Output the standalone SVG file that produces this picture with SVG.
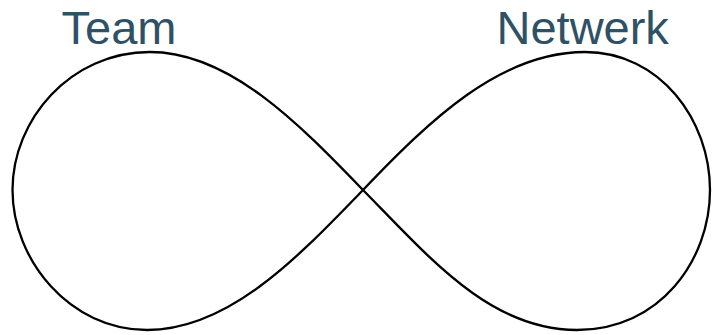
<svg xmlns="http://www.w3.org/2000/svg" width="712" height="335" viewBox="0 0 712 335">
<style>
.lbl{font-family:"Liberation Sans",Arial,sans-serif;font-size:47px;fill:#2F5166}
.loop{fill:none;stroke:#000;stroke-width:2.3}
</style>
<rect width="712" height="335" fill="#fff"/>
<g id="connectors">
<path class="loop" d="M363,190 C430,120 500,52 585,52 C660,52 710,120 710,190 C710,260 660,330 577,330 C490,330 430,258 363,190 C300,125 230,52 150,52 C70,52 12.5,120 12.5,190 C12.5,260 70,330 147,330 C230,330 300,255 363,190 Z"/>
</g>
<g id="team"><text class="lbl" x="61.5" y="44">Team</text></g>
<g id="netwerk"><text class="lbl" x="496.5" y="44">Netwerk</text></g>
</svg>
